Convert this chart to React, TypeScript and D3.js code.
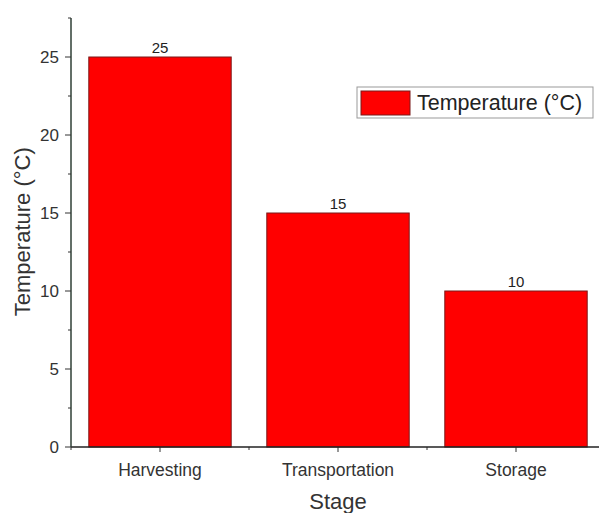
import React from "react";
import * as d3 from "d3";

const categories = ["Harvesting", "Transportation", "Storage"];
const values = [25, 15, 10];
const yTicks = [0, 5, 10, 15, 20, 25];
const yMinorTicks = [2.5, 7.5, 12.5, 17.5, 22.5, 27.5];
const seriesName = "Temperature (°C)";

export default function App() {
  const W = 599, H = 513;
  const x0 = 71, y0 = 447;
  const x = d3.scaleBand<string>().domain(categories).range([x0, x0 + 534]).paddingInner(0.2).paddingOuter(0.1);
  const y = d3.scaleLinear().domain([0, 27.5]).range([y0, 18]);
  const step = x.step();
  const bw = x.bandwidth();
  const font = "Arial, 'Liberation Sans', sans-serif";
  const boundaries = [0, 1, 2, 3].map((i) => x0 + i * step);
  return (
    <svg width={W} height={H} style={{ position: "absolute", left: 0, top: 0 }}>
      <rect width={W} height={H} fill="#fff" />
      {categories.map((c, i) => (
        <g key={c}>
          <rect x={x(c)} y={y(values[i])} width={bw} height={y0 - y(values[i])} fill="#ff0000" stroke="#7a1a1a" strokeWidth={1} />
          <text x={x(c)! + bw / 2} y={y(values[i]) - 4} textAnchor="middle" fontFamily={font} fontSize={15} fill="#222">{values[i]}</text>
          <line x1={x(c)! + bw / 2} x2={x(c)! + bw / 2} y1={y0} y2={y0 + 5} stroke="#333" />
          <text x={x(c)! + bw / 2} y={y0 + 29} textAnchor="middle" fontFamily={font} fontSize={17.5} fill="#333">{c}</text>
        </g>
      ))}
      {boundaries.map((b, i) => (
        <line key={i} x1={b} x2={b} y1={y0} y2={y0 + 3} stroke="#333" />
      ))}
      <line x1={x0} x2={W} y1={y0} y2={y0} stroke="#222" strokeWidth={1.5} />
      <line x1={x0} x2={x0} y1={y(27.5)} y2={y0} stroke="#2f3f36" strokeWidth={1.5} />
      {yTicks.map((t) => (
        <g key={t}>
          <line x1={x0 - 6} x2={x0} y1={y(t)} y2={y(t)} stroke="#333" />
          <text x={x0 - 12} y={y(t) + 6} textAnchor="end" fontFamily={font} fontSize={17} fill="#333">{t}</text>
        </g>
      ))}
      {yMinorTicks.map((t) => (
        <line key={t} x1={x0 - 3} x2={x0} y1={y(t)} y2={y(t)} stroke="#333" />
      ))}
      <text transform={`translate(30, ${y(13.8)}) rotate(-90)`} textAnchor="middle" fontFamily={font} fontSize={22} fill="#333">{seriesName}</text>
      <text x={x0 + 1.5 * step} y={509} textAnchor="middle" fontFamily={font} fontSize={22} fill="#333">Stage</text>
      <rect x={357} y={87} width={236} height={31} fill="#fff" stroke="#999" strokeWidth={1} />
      <rect x={361} y={91} width={49} height={24} fill="#ff0000" stroke="#7a1a1a" strokeWidth={1} />
      <text x={417} y={110} fontFamily={font} fontSize={21.5} fill="#222">{seriesName}</text>
    </svg>
  );
}
